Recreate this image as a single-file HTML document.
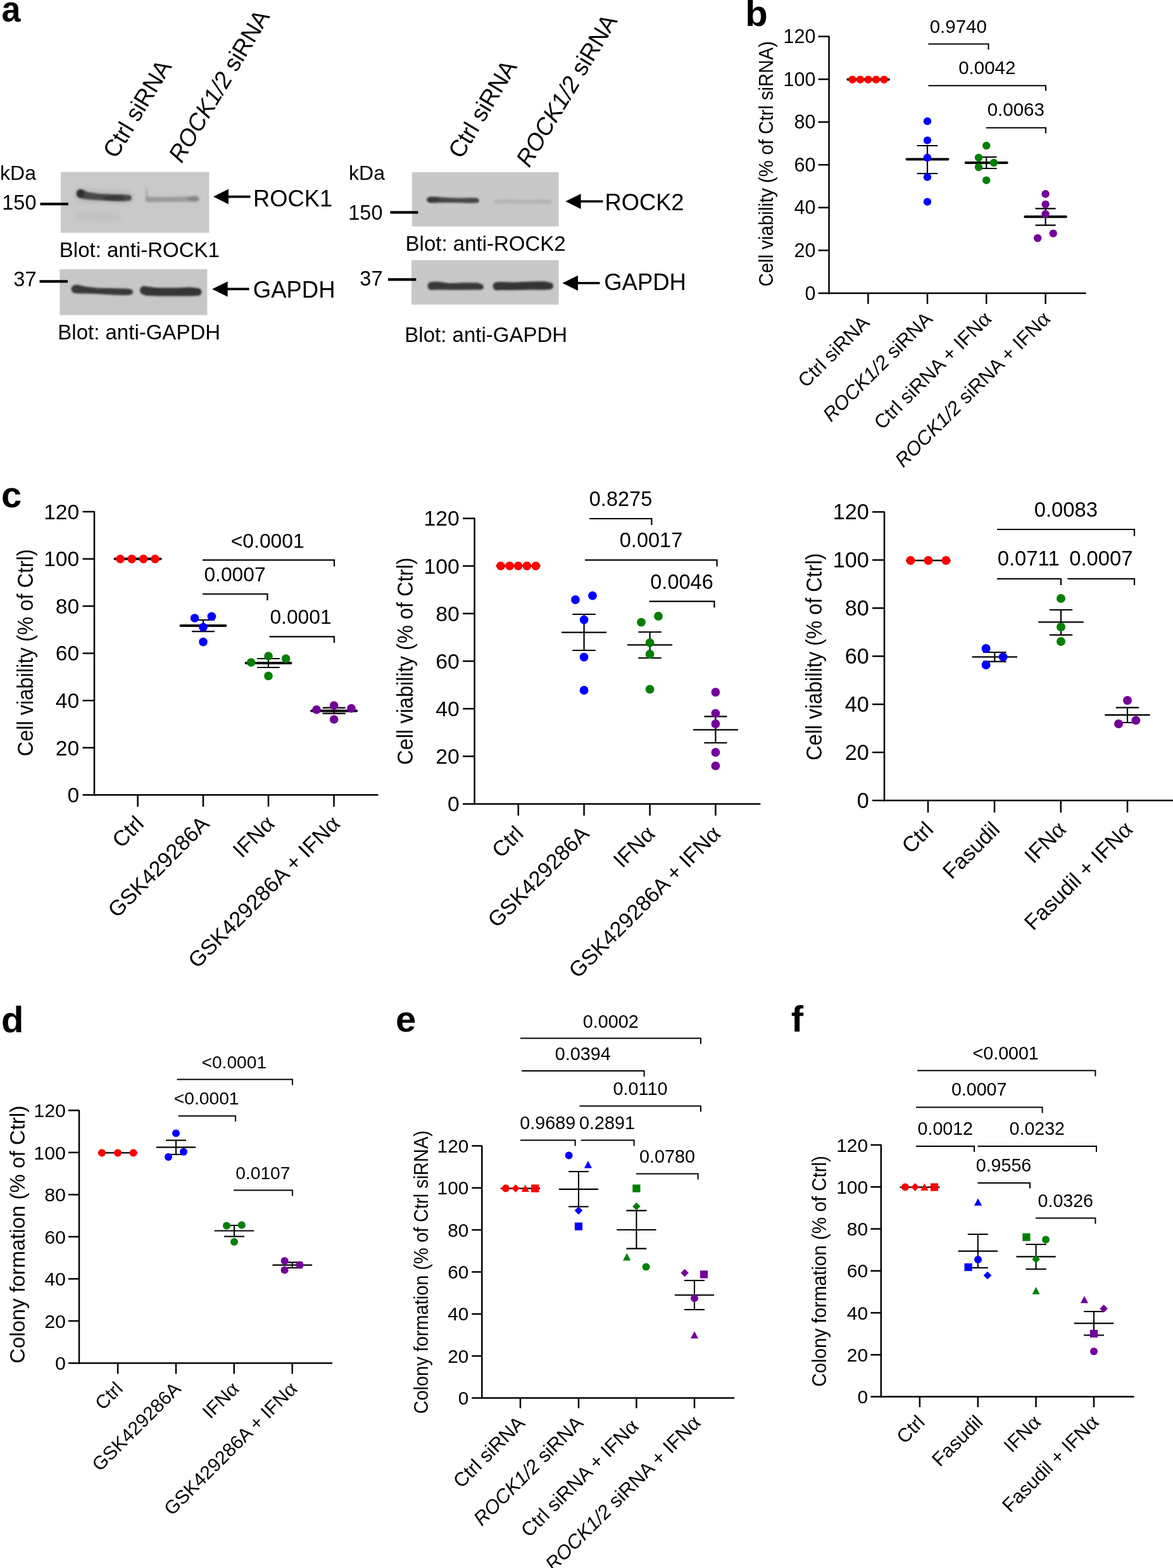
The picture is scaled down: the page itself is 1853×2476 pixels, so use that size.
<!DOCTYPE html>
<html><head><meta charset="utf-8"><title>Figure</title>
<style>html,body{margin:0;padding:0;background:#fff;}body{width:1853px;height:2476px;overflow:hidden;}svg{display:block;}</style>
</head><body>
<svg xmlns="http://www.w3.org/2000/svg" width="1853" height="2476" viewBox="0 0 1853 2476" font-family='"Liberation Sans", Arial, Helvetica, sans-serif'><defs><filter id="blur3" x="-20%" y="-100%" width="140%" height="300%"><feGaussianBlur stdDeviation="2.2"/></filter><filter id="blur5" x="-20%" y="-100%" width="140%" height="300%"><feGaussianBlur stdDeviation="4"/></filter><filter id="noise" x="0" y="0" width="100%" height="100%"><feTurbulence type="fractalNoise" baseFrequency="0.9" numOctaves="1" seed="3"/><feColorMatrix type="matrix" values="0 0 0 0 0.5  0 0 0 0 0.5  0 0 0 0 0.5  0 0 0 0.10 0"/></filter><filter id="blur2" x="-20%" y="-100%" width="140%" height="300%"><feGaussianBlur stdDeviation="1.6"/></filter><filter id="blur4" x="-50%" y="-200%" width="200%" height="500%"><feGaussianBlur stdDeviation="3"/></filter><clipPath id="b1"><rect x="96" y="271.6" width="234.4" height="96"/></clipPath><clipPath id="b2"><rect x="94.4" y="425.2" width="233" height="72.4"/></clipPath><clipPath id="b3"><rect x="650.8" y="272" width="231.8" height="85.6"/></clipPath><clipPath id="b4"><rect x="650" y="410.8" width="232.6" height="70.2"/></clipPath></defs><rect width="1853" height="2476" fill="#fff"/><text transform="translate(2.58,33.5) scale(0.93,1)" font-size="58" font-weight="bold">a</text>
<text transform="translate(183.5,252) rotate(-59) scale(0.97,1)" font-size="38">Ctrl siRNA</text>
<text transform="translate(287,259) rotate(-59) scale(0.97,1)" font-size="38"><tspan font-style="italic">ROCK1/2</tspan> siRNA</text>
<text transform="translate(57,284.4)" font-size="32" text-anchor="end">kDa</text>
<text transform="translate(57.5,331)" font-size="32.5" text-anchor="end">150</text>
<text transform="translate(57.5,452.4)" font-size="32.5" text-anchor="end">37</text>
<rect x="96" y="271.6" width="234.4" height="96" fill="#c9c9c9"/>
<g clip-path="url(#b1)">
<path d="M121,306 C121,302.15 124.15,299 128,299 L128,298.5 L138,303 L155,305.8 L175,306.8 L195,306.9 L203.5,308 C205.97,308 208,310.02 208,312.5 C208,314.98 205.97,317 203.5,317 L195,318.1 L175,317.2 L155,316.2 L138,315 L128,313.5 L128,313 C124.15,313 121,309.85 121,306 Z" fill="#262626" fill-opacity="0.78" filter="url(#blur2)"/>
<path d="M121,305.5 A6,6 0 1,0 133,305.5 A6,6 0 1,0 121,305.5 Z" fill="#101010" fill-opacity="0.55" filter="url(#blur2)"/>
<path d="M164,312.5 A16,4 0 1,0 196,312.5 A16,4 0 1,0 164,312.5 Z" fill="#101010" fill-opacity="0.25" filter="url(#blur2)"/>
<path d="M118,309 C118,303.5 122.5,299 128,299 L201,303 C205.95,303 210,307.05 210,312 C210,316.95 205.95,321 201,321 L128,319 C122.5,319 118,314.5 118,309 Z" fill="#303030" fill-opacity="0.1" filter="url(#blur4)"/>
<path d="M230,315 C230,312.52 232.03,310.5 234.5,310.5 L260,311 L290,310.5 L309.5,309.5 C311.98,309.5 314,311.52 314,314 C314,316.48 311.98,318.5 309.5,318.5 L290,318.5 L260,319 L234.5,319.5 C232.03,319.5 230,317.48 230,315 Z" fill="#404040" fill-opacity="0.33" filter="url(#blur2)"/>
<path d="M296,314 A10,4 0 1,0 316,314 A10,4 0 1,0 296,314 Z" fill="#303030" fill-opacity="0.18" filter="url(#blur2)"/>
<path d="M229,306 A2.5,9 0 1,0 234,306 A2.5,9 0 1,0 229,306 Z" fill="#505050" fill-opacity="0.18" filter="url(#blur2)"/>
<path d="M122,341 C122,338.8 123.8,337 126,337 L150,338 L186,339 C188.2,339 190,340.8 190,343 C190,345.2 188.2,347 186,347 L150,346 L126,345 C123.8,345 122,343.2 122,341 Z" fill="#606060" fill-opacity="0.1" filter="url(#blur4)"/>
</g>
<line x1="63.5" y1="322.2" x2="108" y2="322.2" stroke="#000" stroke-width="4.2" stroke-linecap="butt"/>
<text transform="translate(93.8,405.6)" font-size="33">Blot: anti-ROCK1</text>
<polygon points="337,310.6 361,298.6 361,322.6" fill="#000"/>
<line x1="360" y1="310.6" x2="395.6" y2="310.6" stroke="#000" stroke-width="3.6" stroke-linecap="butt"/>
<text transform="translate(400.1,325.7)" font-size="36.3">ROCK1</text>
<rect x="94.4" y="425.2" width="233" height="72.4" fill="#c7c7c7"/>
<g clip-path="url(#b2)">
<path d="M112.5,456.5 C112.5,452.93 115.42,450 119,450 L122,449.5 L135,452.5 L155,454.7 L180,455.3 L200,455.7 L205.5,456.5 C207.97,456.5 210,458.52 210,461 C210,463.48 207.97,465.5 205.5,465.5 L200,466.3 L180,465.7 L155,464.3 L135,463.5 L122,463.5 L119,463 C115.42,463 112.5,460.07 112.5,456.5 Z" fill="#222222" fill-opacity="0.88" filter="url(#blur2)"/>
<path d="M221,458.5 C221,454.65 224.15,451.5 228,451.5 L230,452.3 L250,454.5 L280,454.5 L300,453.5 L312.5,455 C315.8,455 318.5,457.7 318.5,461 C318.5,464.3 315.8,467 312.5,467 L300,467.5 L280,467.5 L250,467.5 L230,466.7 L228,465.5 C224.15,465.5 221,462.35 221,458.5 Z" fill="#222222" fill-opacity="0.9" filter="url(#blur2)"/>
</g>
<line x1="62.5" y1="444.4" x2="107" y2="444.4" stroke="#000" stroke-width="4.2" stroke-linecap="butt"/>
<text transform="translate(91.3,536)" font-size="33">Blot: anti-GAPDH</text>
<polygon points="335,456.4 359.6,444.4 359.6,468.4" fill="#000"/>
<line x1="358.6" y1="456.4" x2="393.6" y2="456.4" stroke="#000" stroke-width="3.6" stroke-linecap="butt"/>
<text transform="translate(399.78,469.6)" font-size="36.5">GAPDH</text>
<text transform="translate(729,252.5) rotate(-59) scale(0.97,1)" font-size="38">Ctrl siRNA</text>
<text transform="translate(836,266) rotate(-59) scale(0.97,1)" font-size="38"><tspan font-style="italic">ROCK1/2</tspan> siRNA</text>
<text transform="translate(608,284.4)" font-size="32" text-anchor="end">kDa</text>
<text transform="translate(604.5,347)" font-size="32.5" text-anchor="end">150</text>
<text transform="translate(604.5,451.4)" font-size="32.5" text-anchor="end">37</text>
<rect x="650.8" y="272" width="231.8" height="85.6" fill="#c8c8c8"/>
<g clip-path="url(#b3)">
<path d="M675,315.5 C675,313.02 677.02,311 679.5,311 L690,310.7 L705,312 L725,312.7 L745,312.3 L753.2,312.7 C755.29,312.7 757,314.41 757,316.5 C757,318.59 755.29,320.3 753.2,320.3 L745,320.7 L725,320.3 L705,320 L690,320.3 L679.5,320 C677.02,320 675,317.98 675,315.5 Z" fill="#262626" fill-opacity="0.8" filter="url(#blur2)"/>
<path d="M673,315.5 A10,4.5 0 1,0 693,315.5 A10,4.5 0 1,0 673,315.5 Z" fill="#151515" fill-opacity="0.35" filter="url(#blur2)"/>
<path d="M780,318.5 C780,316.85 781.35,315.5 783,315.5 L800,314.8 L830,315.5 L860,315 L869,316 C870.65,316 872,317.35 872,319 C872,320.65 870.65,322 869,322 L860,322 L830,321.5 L800,321.2 L783,321.5 C781.35,321.5 780,320.15 780,318.5 Z" fill="#505050" fill-opacity="0.16" filter="url(#blur2)"/>
</g>
<line x1="616.4" y1="335.4" x2="660.4" y2="335.4" stroke="#000" stroke-width="4.2" stroke-linecap="butt"/>
<text transform="translate(640.6,396.4)" font-size="33">Blot: anti-ROCK2</text>
<polygon points="893.4,318 917.6,306 917.6,330" fill="#000"/>
<line x1="916.6" y1="318" x2="952.4" y2="318" stroke="#000" stroke-width="3.6" stroke-linecap="butt"/>
<text transform="translate(955.5,332)" font-size="36.3">ROCK2</text>
<rect x="650" y="410.8" width="232.6" height="70.2" fill="#c8c8c8"/>
<g clip-path="url(#b4)">
<path d="M675.5,451.5 C675.5,447.93 678.42,445 682,445 L690,444.5 L710,447.3 L735,446.2 L755,446.5 L759.5,448.5 C761.98,448.5 764,450.52 764,453 C764,455.48 761.98,457.5 759.5,457.5 L755,457.5 L735,457.8 L710,457.7 L690,457.5 L682,458 C678.42,458 675.5,455.07 675.5,451.5 Z" fill="#222222" fill-opacity="0.88" filter="url(#blur2)"/>
<path d="M778.5,452 C778.5,448.43 781.42,445.5 785,445.5 L790,445 L810,445.8 L840,444.4 L860,444.2 L868.5,446 C871.52,446 874,448.48 874,451.5 C874,454.52 871.52,457 868.5,457 L860,457.8 L840,457.6 L810,458.2 L790,458 L785,458.5 C781.42,458.5 778.5,455.57 778.5,452 Z" fill="#222222" fill-opacity="0.9" filter="url(#blur2)"/>
</g>
<line x1="613" y1="441.4" x2="657.4" y2="441.4" stroke="#000" stroke-width="4.2" stroke-linecap="butt"/>
<text transform="translate(639.36,540)" font-size="33">Blot: anti-GAPDH</text>
<polygon points="888.4,447 913,435 913,459" fill="#000"/>
<line x1="912" y1="447" x2="947.6" y2="447" stroke="#000" stroke-width="3.6" stroke-linecap="butt"/>
<text transform="translate(954.17,458)" font-size="36.5">GAPDH</text>
<text transform="translate(1177.14,41.2)" font-size="58" font-weight="bold">b</text>
<line x1="1309.6" y1="56.85" x2="1309.6" y2="464.4" stroke="#000" stroke-width="2.5" stroke-linecap="butt"/>
<line x1="1292.6" y1="462.9" x2="1715.6" y2="462.9" stroke="#000" stroke-width="2.5" stroke-linecap="butt"/>
<line x1="1292.6" y1="395.35" x2="1309.6" y2="395.35" stroke="#000" stroke-width="2.5" stroke-linecap="butt"/>
<line x1="1292.6" y1="327.8" x2="1309.6" y2="327.8" stroke="#000" stroke-width="2.5" stroke-linecap="butt"/>
<line x1="1292.6" y1="260.25" x2="1309.6" y2="260.25" stroke="#000" stroke-width="2.5" stroke-linecap="butt"/>
<line x1="1292.6" y1="192.7" x2="1309.6" y2="192.7" stroke="#000" stroke-width="2.5" stroke-linecap="butt"/>
<line x1="1292.6" y1="125.15" x2="1309.6" y2="125.15" stroke="#000" stroke-width="2.5" stroke-linecap="butt"/>
<line x1="1292.6" y1="57.6" x2="1309.6" y2="57.6" stroke="#000" stroke-width="2.5" stroke-linecap="butt"/>
<text transform="translate(1288.5,473.57)" font-size="30.5" text-anchor="end">0</text>
<text transform="translate(1288.5,406.03)" font-size="30.5" text-anchor="end">20</text>
<text transform="translate(1288.5,338.48)" font-size="30.5" text-anchor="end">40</text>
<text transform="translate(1288.5,270.93)" font-size="30.5" text-anchor="end">60</text>
<text transform="translate(1288.5,203.38)" font-size="30.5" text-anchor="end">80</text>
<text transform="translate(1288.5,135.83)" font-size="30.5" text-anchor="end">100</text>
<text transform="translate(1288.5,68.28)" font-size="30.5" text-anchor="end">120</text>
<line x1="1371.4" y1="462.9" x2="1371.4" y2="479.9" stroke="#000" stroke-width="2.5" stroke-linecap="butt"/>
<line x1="1465" y1="462.9" x2="1465" y2="479.9" stroke="#000" stroke-width="2.5" stroke-linecap="butt"/>
<line x1="1558.2" y1="462.9" x2="1558.2" y2="479.9" stroke="#000" stroke-width="2.5" stroke-linecap="butt"/>
<line x1="1651.6" y1="462.9" x2="1651.6" y2="479.9" stroke="#000" stroke-width="2.5" stroke-linecap="butt"/>
<line x1="1339.3" y1="125.6" x2="1403.9" y2="125.6" stroke="#000" stroke-width="4" stroke-linecap="round"/>
<circle cx="1346.6" cy="125.6" r="6.2" fill="#ff0000"/>
<circle cx="1359" cy="125.6" r="6.2" fill="#ff0000"/>
<circle cx="1371.6" cy="125.6" r="6.2" fill="#ff0000"/>
<circle cx="1384" cy="125.6" r="6.2" fill="#ff0000"/>
<circle cx="1396.6" cy="125.6" r="6.2" fill="#ff0000"/>
<line x1="1465" y1="230" x2="1465" y2="274" stroke="#000" stroke-width="2.2" stroke-linecap="butt"/>
<line x1="1448.6" y1="230" x2="1481.4" y2="230" stroke="#000" stroke-width="2.2" stroke-linecap="butt"/>
<line x1="1448.6" y1="274" x2="1481.4" y2="274" stroke="#000" stroke-width="2.2" stroke-linecap="butt"/>
<line x1="1432.5" y1="251.6" x2="1497.5" y2="251.6" stroke="#000" stroke-width="4" stroke-linecap="round"/>
<circle cx="1465" cy="191.4" r="6.2" fill="#0000ff"/>
<circle cx="1465" cy="221.6" r="6.2" fill="#0000ff"/>
<circle cx="1465" cy="249" r="6.2" fill="#0000ff"/>
<circle cx="1465" cy="279.6" r="6.2" fill="#0000ff"/>
<circle cx="1465" cy="318.6" r="6.2" fill="#0000ff"/>
<line x1="1558.2" y1="248" x2="1558.2" y2="266" stroke="#000" stroke-width="2.2" stroke-linecap="butt"/>
<line x1="1541.8" y1="248" x2="1574.6" y2="248" stroke="#000" stroke-width="2.2" stroke-linecap="butt"/>
<line x1="1541.8" y1="266" x2="1574.6" y2="266" stroke="#000" stroke-width="2.2" stroke-linecap="butt"/>
<line x1="1525.7" y1="257" x2="1590.7" y2="257" stroke="#000" stroke-width="4" stroke-linecap="round"/>
<circle cx="1558.2" cy="230" r="6.2" fill="#008000"/>
<circle cx="1546" cy="249" r="6.2" fill="#008000"/>
<circle cx="1570" cy="257" r="6.2" fill="#008000"/>
<circle cx="1546" cy="264" r="6.2" fill="#008000"/>
<circle cx="1558.2" cy="284.6" r="6.2" fill="#008000"/>
<line x1="1651.6" y1="329.3" x2="1651.6" y2="355.6" stroke="#000" stroke-width="2.2" stroke-linecap="butt"/>
<line x1="1635.5" y1="329.3" x2="1667.7" y2="329.3" stroke="#000" stroke-width="2.2" stroke-linecap="butt"/>
<line x1="1635.5" y1="355.6" x2="1667.7" y2="355.6" stroke="#000" stroke-width="2.2" stroke-linecap="butt"/>
<line x1="1619.4" y1="342.2" x2="1683.8" y2="342.2" stroke="#000" stroke-width="4" stroke-linecap="round"/>
<circle cx="1651.6" cy="306.3" r="6.2" fill="#740099"/>
<circle cx="1651.6" cy="322.6" r="6.2" fill="#740099"/>
<circle cx="1651.6" cy="337.9" r="6.2" fill="#740099"/>
<circle cx="1663.8" cy="368.6" r="6.2" fill="#740099"/>
<circle cx="1639.2" cy="376" r="6.2" fill="#740099"/>
<polyline points="1466.4,69.4 1561.5,69.4 1561.5,78.4" fill="none" stroke="#000" stroke-width="2" stroke-linejoin="miter"/>
<text transform="translate(1513.8,52.4)" font-size="29.5" text-anchor="middle">0.9740</text>
<polyline points="1466.4,135.2 1652,135.2 1652,143.6" fill="none" stroke="#000" stroke-width="2" stroke-linejoin="miter"/>
<text transform="translate(1559.3,117)" font-size="29.5" text-anchor="middle">0.0042</text>
<polyline points="1557.6,201.8 1652,201.8 1652,210.4" fill="none" stroke="#000" stroke-width="2" stroke-linejoin="miter"/>
<text transform="translate(1604.8,183.4)" font-size="29.5" text-anchor="middle">0.0063</text>
<text transform="translate(1375.5,511.3) rotate(-45)" font-size="31" text-anchor="end">Ctrl siRNA</text>
<text transform="translate(1474.8,505.5) rotate(-45)" font-size="31" text-anchor="end"><tspan font-style="italic">ROCK1/2</tspan> siRNA</text>
<text transform="translate(1568,505.2) rotate(-45)" font-size="31" text-anchor="end">Ctrl siRNA + IFN<tspan font-family='"Liberation Serif", "Times New Roman", serif' font-size="1.15em">&#945;</tspan></text>
<text transform="translate(1661,505.2) rotate(-45)" font-size="31" text-anchor="end"><tspan font-style="italic">ROCK1/2</tspan> siRNA + IFN<tspan font-family='"Liberation Serif", "Times New Roman", serif' font-size="1.15em">&#945;</tspan></text>
<text transform="translate(1220.6,452.5) rotate(-90) scale(0.92,1)" font-size="32">Cell viability (% of Ctrl siRNA)</text>
<text transform="translate(2.08,800.7)" font-size="58" font-weight="bold">c</text>
<line x1="149" y1="807.25" x2="149" y2="1256.8" stroke="#000" stroke-width="2.5" stroke-linecap="butt"/>
<line x1="130.5" y1="1255.3" x2="597.5" y2="1255.3" stroke="#000" stroke-width="2.5" stroke-linecap="butt"/>
<line x1="130.5" y1="1180.75" x2="149" y2="1180.75" stroke="#000" stroke-width="2.5" stroke-linecap="butt"/>
<line x1="130.5" y1="1106.2" x2="149" y2="1106.2" stroke="#000" stroke-width="2.5" stroke-linecap="butt"/>
<line x1="130.5" y1="1031.65" x2="149" y2="1031.65" stroke="#000" stroke-width="2.5" stroke-linecap="butt"/>
<line x1="130.5" y1="957.1" x2="149" y2="957.1" stroke="#000" stroke-width="2.5" stroke-linecap="butt"/>
<line x1="130.5" y1="882.55" x2="149" y2="882.55" stroke="#000" stroke-width="2.5" stroke-linecap="butt"/>
<line x1="130.5" y1="808" x2="149" y2="808" stroke="#000" stroke-width="2.5" stroke-linecap="butt"/>
<text transform="translate(125.2,1267.06)" font-size="33.6" text-anchor="end">0</text>
<text transform="translate(125.2,1192.51)" font-size="33.6" text-anchor="end">20</text>
<text transform="translate(125.2,1117.96)" font-size="33.6" text-anchor="end">40</text>
<text transform="translate(125.2,1043.41)" font-size="33.6" text-anchor="end">60</text>
<text transform="translate(125.2,968.86)" font-size="33.6" text-anchor="end">80</text>
<text transform="translate(125.2,894.31)" font-size="33.6" text-anchor="end">100</text>
<text transform="translate(125.2,819.76)" font-size="33.6" text-anchor="end">120</text>
<line x1="217.6" y1="1255.3" x2="217.6" y2="1273.8" stroke="#000" stroke-width="2.5" stroke-linecap="butt"/>
<line x1="321" y1="1255.3" x2="321" y2="1273.8" stroke="#000" stroke-width="2.5" stroke-linecap="butt"/>
<line x1="424" y1="1255.3" x2="424" y2="1273.8" stroke="#000" stroke-width="2.5" stroke-linecap="butt"/>
<line x1="527.5" y1="1255.3" x2="527.5" y2="1273.8" stroke="#000" stroke-width="2.5" stroke-linecap="butt"/>
<line x1="181.6" y1="882.6" x2="253.6" y2="882.6" stroke="#000" stroke-width="4" stroke-linecap="round"/>
<circle cx="190" cy="882.6" r="6.8" fill="#ff0000"/>
<circle cx="208.2" cy="882.6" r="6.8" fill="#ff0000"/>
<circle cx="226.6" cy="882.6" r="6.8" fill="#ff0000"/>
<circle cx="245" cy="882.6" r="6.8" fill="#ff0000"/>
<line x1="321" y1="979" x2="321" y2="997.2" stroke="#000" stroke-width="2.2" stroke-linecap="butt"/>
<line x1="303" y1="979" x2="339" y2="979" stroke="#000" stroke-width="2.2" stroke-linecap="butt"/>
<line x1="303" y1="997.2" x2="339" y2="997.2" stroke="#000" stroke-width="2.2" stroke-linecap="butt"/>
<line x1="285.5" y1="988" x2="356.5" y2="988" stroke="#000" stroke-width="4" stroke-linecap="round"/>
<circle cx="307.6" cy="976" r="6.8" fill="#0000ff"/>
<circle cx="334.4" cy="973.4" r="6.8" fill="#0000ff"/>
<circle cx="321" cy="990.4" r="6.8" fill="#0000ff"/>
<circle cx="321" cy="1013.6" r="6.8" fill="#0000ff"/>
<line x1="424" y1="1040" x2="424" y2="1054" stroke="#000" stroke-width="2.2" stroke-linecap="butt"/>
<line x1="406.2" y1="1040" x2="441.8" y2="1040" stroke="#000" stroke-width="2.2" stroke-linecap="butt"/>
<line x1="406.2" y1="1054" x2="441.8" y2="1054" stroke="#000" stroke-width="2.2" stroke-linecap="butt"/>
<line x1="388.5" y1="1047" x2="459.5" y2="1047" stroke="#000" stroke-width="4" stroke-linecap="round"/>
<circle cx="396.6" cy="1046" r="6.8" fill="#008000"/>
<circle cx="424" cy="1036" r="6.8" fill="#008000"/>
<circle cx="451.6" cy="1040" r="6.8" fill="#008000"/>
<circle cx="424" cy="1067.4" r="6.8" fill="#008000"/>
<line x1="527.6" y1="1117.6" x2="527.6" y2="1126.6" stroke="#000" stroke-width="2.2" stroke-linecap="butt"/>
<line x1="509.6" y1="1117.6" x2="545.6" y2="1117.6" stroke="#000" stroke-width="2.2" stroke-linecap="butt"/>
<line x1="509.6" y1="1126.6" x2="545.6" y2="1126.6" stroke="#000" stroke-width="2.2" stroke-linecap="butt"/>
<line x1="492.1" y1="1122.6" x2="563.1" y2="1122.6" stroke="#000" stroke-width="4" stroke-linecap="round"/>
<circle cx="500" cy="1120.6" r="6.8" fill="#740099"/>
<circle cx="527.6" cy="1114" r="6.8" fill="#740099"/>
<circle cx="555" cy="1118.6" r="6.8" fill="#740099"/>
<circle cx="527.6" cy="1136" r="6.8" fill="#740099"/>
<polyline points="320,884.4 528,884.4 528,894.4" fill="none" stroke="#000" stroke-width="2.2" stroke-linejoin="miter"/>
<text transform="translate(422.7,865)" font-size="31.8" text-anchor="middle">&lt;0.0001</text>
<polyline points="320,938 422.4,938 422.4,948" fill="none" stroke="#000" stroke-width="2.2" stroke-linejoin="miter"/>
<text transform="translate(371,918.4)" font-size="31.8" text-anchor="middle">0.0007</text>
<polyline points="425.6,1005.4 528,1005.4 528,1015" fill="none" stroke="#000" stroke-width="2.2" stroke-linejoin="miter"/>
<text transform="translate(475,985.4)" font-size="31.8" text-anchor="middle">0.0001</text>
<text transform="translate(229.1,1302.8) rotate(-45)" font-size="34.2" text-anchor="end">Ctrl</text>
<text transform="translate(332.5,1302.8) rotate(-45)" font-size="34.2" text-anchor="end">GSK429286A</text>
<text transform="translate(435.5,1302.8) rotate(-45)" font-size="34.2" text-anchor="end">IFN<tspan font-family='"Liberation Serif", "Times New Roman", serif' font-size="1.15em">&#945;</tspan></text>
<text transform="translate(539,1302.8) rotate(-45)" font-size="34.2" text-anchor="end">GSK429286A + IFN<tspan font-family='"Liberation Serif", "Times New Roman", serif' font-size="1.15em">&#945;</tspan></text>
<text transform="translate(52.4,1194.3) rotate(-90) scale(0.93,1)" font-size="35">Cell viability (% of Ctrl)</text>
<line x1="749.6" y1="817.85" x2="749.6" y2="1270.9" stroke="#000" stroke-width="2.5" stroke-linecap="butt"/>
<line x1="731.1" y1="1269.4" x2="1201.3" y2="1269.4" stroke="#000" stroke-width="2.5" stroke-linecap="butt"/>
<line x1="731.1" y1="1194.27" x2="749.6" y2="1194.27" stroke="#000" stroke-width="2.5" stroke-linecap="butt"/>
<line x1="731.1" y1="1119.13" x2="749.6" y2="1119.13" stroke="#000" stroke-width="2.5" stroke-linecap="butt"/>
<line x1="731.1" y1="1044" x2="749.6" y2="1044" stroke="#000" stroke-width="2.5" stroke-linecap="butt"/>
<line x1="731.1" y1="968.87" x2="749.6" y2="968.87" stroke="#000" stroke-width="2.5" stroke-linecap="butt"/>
<line x1="731.1" y1="893.73" x2="749.6" y2="893.73" stroke="#000" stroke-width="2.5" stroke-linecap="butt"/>
<line x1="731.1" y1="818.6" x2="749.6" y2="818.6" stroke="#000" stroke-width="2.5" stroke-linecap="butt"/>
<text transform="translate(725.8,1281.23)" font-size="33.8" text-anchor="end">0</text>
<text transform="translate(725.8,1206.1)" font-size="33.8" text-anchor="end">20</text>
<text transform="translate(725.8,1130.96)" font-size="33.8" text-anchor="end">40</text>
<text transform="translate(725.8,1055.83)" font-size="33.8" text-anchor="end">60</text>
<text transform="translate(725.8,980.7)" font-size="33.8" text-anchor="end">80</text>
<text transform="translate(725.8,905.56)" font-size="33.8" text-anchor="end">100</text>
<text transform="translate(725.8,830.43)" font-size="33.8" text-anchor="end">120</text>
<line x1="818.8" y1="1269.4" x2="818.8" y2="1287.9" stroke="#000" stroke-width="2.5" stroke-linecap="butt"/>
<line x1="922.6" y1="1269.4" x2="922.6" y2="1287.9" stroke="#000" stroke-width="2.5" stroke-linecap="butt"/>
<line x1="1026.6" y1="1269.4" x2="1026.6" y2="1287.9" stroke="#000" stroke-width="2.5" stroke-linecap="butt"/>
<line x1="1130.4" y1="1269.4" x2="1130.4" y2="1287.9" stroke="#000" stroke-width="2.5" stroke-linecap="butt"/>
<line x1="783.6" y1="893.6" x2="853.6" y2="893.6" stroke="#000" stroke-width="2.3" stroke-linecap="butt"/>
<circle cx="791" cy="893.6" r="6.9" fill="#ff0000"/>
<circle cx="805" cy="893.6" r="6.9" fill="#ff0000"/>
<circle cx="818.6" cy="893.6" r="6.9" fill="#ff0000"/>
<circle cx="832.4" cy="893.6" r="6.9" fill="#ff0000"/>
<circle cx="846.4" cy="893.6" r="6.9" fill="#ff0000"/>
<line x1="922.6" y1="970" x2="922.6" y2="1027" stroke="#000" stroke-width="2.2" stroke-linecap="butt"/>
<line x1="904.3" y1="970" x2="940.9" y2="970" stroke="#000" stroke-width="2.2" stroke-linecap="butt"/>
<line x1="904.3" y1="1027" x2="940.9" y2="1027" stroke="#000" stroke-width="2.2" stroke-linecap="butt"/>
<line x1="887.1" y1="998.6" x2="958.1" y2="998.6" stroke="#000" stroke-width="2.3" stroke-linecap="butt"/>
<circle cx="909" cy="947" r="6.9" fill="#0000ff"/>
<circle cx="936" cy="940.6" r="6.9" fill="#0000ff"/>
<circle cx="922.6" cy="978.6" r="6.9" fill="#0000ff"/>
<circle cx="922.6" cy="1037.6" r="6.9" fill="#0000ff"/>
<circle cx="922.6" cy="1090" r="6.9" fill="#0000ff"/>
<line x1="1026.6" y1="998" x2="1026.6" y2="1039" stroke="#000" stroke-width="2.2" stroke-linecap="butt"/>
<line x1="1008.3" y1="998" x2="1044.9" y2="998" stroke="#000" stroke-width="2.2" stroke-linecap="butt"/>
<line x1="1008.3" y1="1039" x2="1044.9" y2="1039" stroke="#000" stroke-width="2.2" stroke-linecap="butt"/>
<line x1="991.1" y1="1018.4" x2="1062.1" y2="1018.4" stroke="#000" stroke-width="2.3" stroke-linecap="butt"/>
<circle cx="1013" cy="982.6" r="6.9" fill="#008000"/>
<circle cx="1040" cy="973" r="6.9" fill="#008000"/>
<circle cx="1026.6" cy="1014.8" r="6.9" fill="#008000"/>
<circle cx="1026.6" cy="1033" r="6.9" fill="#008000"/>
<circle cx="1026.6" cy="1088.4" r="6.9" fill="#008000"/>
<line x1="1130.4" y1="1131.4" x2="1130.4" y2="1173" stroke="#000" stroke-width="2.2" stroke-linecap="butt"/>
<line x1="1112.3" y1="1131.4" x2="1148.5" y2="1131.4" stroke="#000" stroke-width="2.2" stroke-linecap="butt"/>
<line x1="1112.3" y1="1173" x2="1148.5" y2="1173" stroke="#000" stroke-width="2.2" stroke-linecap="butt"/>
<line x1="1094.9" y1="1152.4" x2="1165.9" y2="1152.4" stroke="#000" stroke-width="2.3" stroke-linecap="butt"/>
<circle cx="1130.4" cy="1093" r="6.9" fill="#740099"/>
<circle cx="1130.4" cy="1126.4" r="6.9" fill="#740099"/>
<circle cx="1130.4" cy="1143" r="6.9" fill="#740099"/>
<circle cx="1130.4" cy="1188" r="6.9" fill="#740099"/>
<circle cx="1130.4" cy="1209.4" r="6.9" fill="#740099"/>
<polyline points="931,819 1029.4,819 1029.4,829" fill="none" stroke="#000" stroke-width="2.2" stroke-linejoin="miter"/>
<text transform="translate(980.5,799)" font-size="32.5" text-anchor="middle">0.8275</text>
<polyline points="924,884.4 1132.6,884.4 1132.6,894.4" fill="none" stroke="#000" stroke-width="2.2" stroke-linejoin="miter"/>
<text transform="translate(1028.5,864.4)" font-size="32.5" text-anchor="middle">0.0017</text>
<polyline points="1025.6,949.6 1128.4,949.6 1128.4,959.6" fill="none" stroke="#000" stroke-width="2.2" stroke-linejoin="miter"/>
<text transform="translate(1077,930)" font-size="32.5" text-anchor="middle">0.0046</text>
<text transform="translate(828.8,1318.6) rotate(-45)" font-size="34.2" text-anchor="end">Ctrl</text>
<text transform="translate(932.6,1318.6) rotate(-45)" font-size="34.2" text-anchor="end">GSK429286A</text>
<text transform="translate(1036.6,1318.6) rotate(-45)" font-size="34.2" text-anchor="end">IFN<tspan font-family='"Liberation Serif", "Times New Roman", serif' font-size="1.15em">&#945;</tspan></text>
<text transform="translate(1140.4,1318.6) rotate(-45)" font-size="34.2" text-anchor="end">GSK429286A + IFN<tspan font-family='"Liberation Serif", "Times New Roman", serif' font-size="1.15em">&#945;</tspan></text>
<text transform="translate(652.4,1207.7) rotate(-90) scale(0.93,1)" font-size="35">Cell viability (% of Ctrl)</text>
<line x1="1397" y1="807.65" x2="1397" y2="1265.5" stroke="#000" stroke-width="2.5" stroke-linecap="butt"/>
<line x1="1378" y1="1264" x2="1853" y2="1264" stroke="#000" stroke-width="2.5" stroke-linecap="butt"/>
<line x1="1378" y1="1188.07" x2="1397" y2="1188.07" stroke="#000" stroke-width="2.5" stroke-linecap="butt"/>
<line x1="1378" y1="1112.13" x2="1397" y2="1112.13" stroke="#000" stroke-width="2.5" stroke-linecap="butt"/>
<line x1="1378" y1="1036.2" x2="1397" y2="1036.2" stroke="#000" stroke-width="2.5" stroke-linecap="butt"/>
<line x1="1378" y1="960.27" x2="1397" y2="960.27" stroke="#000" stroke-width="2.5" stroke-linecap="butt"/>
<line x1="1378" y1="884.33" x2="1397" y2="884.33" stroke="#000" stroke-width="2.5" stroke-linecap="butt"/>
<line x1="1378" y1="808.4" x2="1397" y2="808.4" stroke="#000" stroke-width="2.5" stroke-linecap="butt"/>
<text transform="translate(1372.8,1275.97)" font-size="34.2" text-anchor="end">0</text>
<text transform="translate(1372.8,1200.04)" font-size="34.2" text-anchor="end">20</text>
<text transform="translate(1372.8,1124.1)" font-size="34.2" text-anchor="end">40</text>
<text transform="translate(1372.8,1048.17)" font-size="34.2" text-anchor="end">60</text>
<text transform="translate(1372.8,972.24)" font-size="34.2" text-anchor="end">80</text>
<text transform="translate(1372.8,896.3)" font-size="34.2" text-anchor="end">100</text>
<text transform="translate(1372.8,820.37)" font-size="34.2" text-anchor="end">120</text>
<line x1="1466" y1="1264" x2="1466" y2="1283" stroke="#000" stroke-width="2.5" stroke-linecap="butt"/>
<line x1="1571" y1="1264" x2="1571" y2="1283" stroke="#000" stroke-width="2.5" stroke-linecap="butt"/>
<line x1="1675.8" y1="1264" x2="1675.8" y2="1283" stroke="#000" stroke-width="2.5" stroke-linecap="butt"/>
<line x1="1781" y1="1264" x2="1781" y2="1283" stroke="#000" stroke-width="2.5" stroke-linecap="butt"/>
<line x1="1431.1" y1="885" x2="1501.7" y2="885" stroke="#000" stroke-width="2.3" stroke-linecap="butt"/>
<circle cx="1438.4" cy="885" r="7" fill="#ff0000"/>
<circle cx="1466.4" cy="885" r="7" fill="#ff0000"/>
<circle cx="1494.4" cy="885" r="7" fill="#ff0000"/>
<line x1="1571.3" y1="1030" x2="1571.3" y2="1044.6" stroke="#000" stroke-width="2.2" stroke-linecap="butt"/>
<line x1="1553" y1="1030" x2="1589.6" y2="1030" stroke="#000" stroke-width="2.2" stroke-linecap="butt"/>
<line x1="1553" y1="1044.6" x2="1589.6" y2="1044.6" stroke="#000" stroke-width="2.2" stroke-linecap="butt"/>
<line x1="1535.6" y1="1037.4" x2="1607" y2="1037.4" stroke="#000" stroke-width="2.3" stroke-linecap="butt"/>
<circle cx="1557.6" cy="1024" r="7" fill="#0000ff"/>
<circle cx="1584.6" cy="1037.4" r="7" fill="#0000ff"/>
<circle cx="1557.6" cy="1050" r="7" fill="#0000ff"/>
<line x1="1676" y1="963" x2="1676" y2="1002.6" stroke="#000" stroke-width="2.2" stroke-linecap="butt"/>
<line x1="1657.8" y1="963" x2="1694.2" y2="963" stroke="#000" stroke-width="2.2" stroke-linecap="butt"/>
<line x1="1657.8" y1="1002.6" x2="1694.2" y2="1002.6" stroke="#000" stroke-width="2.2" stroke-linecap="butt"/>
<line x1="1640.2" y1="982.4" x2="1711.8" y2="982.4" stroke="#000" stroke-width="2.3" stroke-linecap="butt"/>
<circle cx="1676" cy="945" r="7" fill="#008000"/>
<circle cx="1676" cy="990" r="7" fill="#008000"/>
<circle cx="1676" cy="1013" r="7" fill="#008000"/>
<line x1="1781" y1="1117.4" x2="1781" y2="1141" stroke="#000" stroke-width="2.2" stroke-linecap="butt"/>
<line x1="1762.7" y1="1117.4" x2="1799.3" y2="1117.4" stroke="#000" stroke-width="2.2" stroke-linecap="butt"/>
<line x1="1762.7" y1="1141" x2="1799.3" y2="1141" stroke="#000" stroke-width="2.2" stroke-linecap="butt"/>
<line x1="1745.3" y1="1129" x2="1816.7" y2="1129" stroke="#000" stroke-width="2.3" stroke-linecap="butt"/>
<circle cx="1781" cy="1106" r="7" fill="#740099"/>
<circle cx="1794.4" cy="1137.6" r="7" fill="#740099"/>
<circle cx="1767" cy="1143" r="7" fill="#740099"/>
<polyline points="1575,836 1792,836 1792,846.4" fill="none" stroke="#000" stroke-width="2.2" stroke-linejoin="miter"/>
<text transform="translate(1683.8,816.4)" font-size="32.8" text-anchor="middle">0.0083</text>
<polyline points="1575,914 1676,914 1676,924" fill="none" stroke="#000" stroke-width="2.2" stroke-linejoin="miter"/>
<text transform="translate(1624.7,893)" font-size="32.8" text-anchor="middle">0.0711</text>
<polyline points="1686.4,914 1792,914 1792,924" fill="none" stroke="#000" stroke-width="2.2" stroke-linejoin="miter"/>
<text transform="translate(1739.3,893)" font-size="32.8" text-anchor="middle">0.0007</text>
<text transform="translate(1476.3,1311.8) rotate(-45)" font-size="34.2" text-anchor="end">Ctrl</text>
<text transform="translate(1581.3,1311.8) rotate(-45)" font-size="34.2" text-anchor="end">Fasudil</text>
<text transform="translate(1686.1,1311.8) rotate(-45)" font-size="34.2" text-anchor="end">IFN<tspan font-family='"Liberation Serif", "Times New Roman", serif' font-size="1.15em">&#945;</tspan></text>
<text transform="translate(1791.3,1311.8) rotate(-45)" font-size="34.2" text-anchor="end">Fasudil + IFN<tspan font-family='"Liberation Serif", "Times New Roman", serif' font-size="1.15em">&#945;</tspan></text>
<text transform="translate(1298,1200.7) rotate(-90) scale(0.93,1)" font-size="35">Cell viability (% of Ctrl)</text>
<text transform="translate(2.08,1630)" font-size="58" font-weight="bold">d</text>
<line x1="125" y1="1752.65" x2="125" y2="2153.9" stroke="#000" stroke-width="2.5" stroke-linecap="butt"/>
<line x1="108" y1="2152.4" x2="525" y2="2152.4" stroke="#000" stroke-width="2.5" stroke-linecap="butt"/>
<line x1="108" y1="2085.9" x2="125" y2="2085.9" stroke="#000" stroke-width="2.5" stroke-linecap="butt"/>
<line x1="108" y1="2019.4" x2="125" y2="2019.4" stroke="#000" stroke-width="2.5" stroke-linecap="butt"/>
<line x1="108" y1="1952.9" x2="125" y2="1952.9" stroke="#000" stroke-width="2.5" stroke-linecap="butt"/>
<line x1="108" y1="1886.4" x2="125" y2="1886.4" stroke="#000" stroke-width="2.5" stroke-linecap="butt"/>
<line x1="108" y1="1819.9" x2="125" y2="1819.9" stroke="#000" stroke-width="2.5" stroke-linecap="butt"/>
<line x1="108" y1="1753.4" x2="125" y2="1753.4" stroke="#000" stroke-width="2.5" stroke-linecap="butt"/>
<text transform="translate(104,2163.04)" font-size="30.4" text-anchor="end">0</text>
<text transform="translate(104,2096.54)" font-size="30.4" text-anchor="end">20</text>
<text transform="translate(104,2030.04)" font-size="30.4" text-anchor="end">40</text>
<text transform="translate(104,1963.54)" font-size="30.4" text-anchor="end">60</text>
<text transform="translate(104,1897.04)" font-size="30.4" text-anchor="end">80</text>
<text transform="translate(104,1830.54)" font-size="30.4" text-anchor="end">100</text>
<text transform="translate(104,1764.04)" font-size="30.4" text-anchor="end">120</text>
<line x1="186.1" y1="2152.4" x2="186.1" y2="2169.4" stroke="#000" stroke-width="2.5" stroke-linecap="butt"/>
<line x1="278" y1="2152.4" x2="278" y2="2169.4" stroke="#000" stroke-width="2.5" stroke-linecap="butt"/>
<line x1="369.8" y1="2152.4" x2="369.8" y2="2169.4" stroke="#000" stroke-width="2.5" stroke-linecap="butt"/>
<line x1="461.7" y1="2152.4" x2="461.7" y2="2169.4" stroke="#000" stroke-width="2.5" stroke-linecap="butt"/>
<line x1="154.7" y1="1820.4" x2="217.3" y2="1820.4" stroke="#000" stroke-width="2.2" stroke-linecap="butt"/>
<circle cx="161" cy="1820.4" r="6" fill="#ff0000"/>
<circle cx="186" cy="1820.4" r="6" fill="#ff0000"/>
<circle cx="210.6" cy="1820.4" r="6" fill="#ff0000"/>
<line x1="278" y1="1800.6" x2="278" y2="1823" stroke="#000" stroke-width="2.1" stroke-linecap="butt"/>
<line x1="262" y1="1800.6" x2="294" y2="1800.6" stroke="#000" stroke-width="2.1" stroke-linecap="butt"/>
<line x1="262" y1="1823" x2="294" y2="1823" stroke="#000" stroke-width="2.1" stroke-linecap="butt"/>
<line x1="246.8" y1="1811.6" x2="309.2" y2="1811.6" stroke="#000" stroke-width="2.2" stroke-linecap="butt"/>
<circle cx="278" cy="1789.6" r="6" fill="#0000ff"/>
<circle cx="290" cy="1818.8" r="6" fill="#0000ff"/>
<circle cx="266" cy="1827" r="6" fill="#0000ff"/>
<line x1="370" y1="1935" x2="370" y2="1952.5" stroke="#000" stroke-width="2.1" stroke-linecap="butt"/>
<line x1="354" y1="1935" x2="386" y2="1935" stroke="#000" stroke-width="2.1" stroke-linecap="butt"/>
<line x1="354" y1="1952.5" x2="386" y2="1952.5" stroke="#000" stroke-width="2.1" stroke-linecap="butt"/>
<line x1="338.7" y1="1943.5" x2="401.3" y2="1943.5" stroke="#000" stroke-width="2.2" stroke-linecap="butt"/>
<circle cx="358" cy="1935.4" r="6" fill="#008000"/>
<circle cx="381.8" cy="1934.4" r="6" fill="#008000"/>
<circle cx="370" cy="1961" r="6" fill="#008000"/>
<line x1="461.8" y1="1993.4" x2="461.8" y2="2002" stroke="#000" stroke-width="2.1" stroke-linecap="butt"/>
<line x1="445.8" y1="1993.4" x2="477.8" y2="1993.4" stroke="#000" stroke-width="2.1" stroke-linecap="butt"/>
<line x1="445.8" y1="2002" x2="477.8" y2="2002" stroke="#000" stroke-width="2.1" stroke-linecap="butt"/>
<line x1="430.5" y1="1997.6" x2="493.1" y2="1997.6" stroke="#000" stroke-width="2.2" stroke-linecap="butt"/>
<circle cx="449.6" cy="1991" r="6" fill="#740099"/>
<circle cx="473.6" cy="1997.6" r="6" fill="#740099"/>
<circle cx="449.6" cy="2005.4" r="6" fill="#740099"/>
<polyline points="279.6,1704.4 462,1704.4 462,1713.4" fill="none" stroke="#000" stroke-width="2" stroke-linejoin="miter"/>
<text transform="translate(369.8,1687)" font-size="28.2" text-anchor="middle">&lt;0.0001</text>
<polyline points="281.6,1762.2 372,1762.2 372,1771" fill="none" stroke="#000" stroke-width="2" stroke-linejoin="miter"/>
<text transform="translate(326.2,1744.4)" font-size="28.2" text-anchor="middle">&lt;0.0001</text>
<polyline points="369,1879.6 462,1879.6 462,1888.4" fill="none" stroke="#000" stroke-width="2" stroke-linejoin="miter"/>
<text transform="translate(415.3,1862)" font-size="28.2" text-anchor="middle">0.0107</text>
<text transform="translate(195.6,2194.9) rotate(-45)" font-size="30" text-anchor="end">Ctrl</text>
<text transform="translate(287.5,2194.9) rotate(-45)" font-size="30" text-anchor="end">GSK429286A</text>
<text transform="translate(379.3,2194.9) rotate(-45)" font-size="30" text-anchor="end">IFN<tspan font-family='"Liberation Serif", "Times New Roman", serif' font-size="1.15em">&#945;</tspan></text>
<text transform="translate(471.2,2194.9) rotate(-45)" font-size="30" text-anchor="end">GSK429286A + IFN<tspan font-family='"Liberation Serif", "Times New Roman", serif' font-size="1.15em">&#945;</tspan></text>
<text transform="translate(38.6,2153) rotate(-90)" font-size="33">Colony formation (% of Ctrl)</text>
<text transform="translate(625.08,1629.3)" font-size="58" font-weight="bold">e</text>
<line x1="761.3" y1="1808.65" x2="761.3" y2="2209.1" stroke="#000" stroke-width="2.5" stroke-linecap="butt"/>
<line x1="745.3" y1="2207.6" x2="1160.2" y2="2207.6" stroke="#000" stroke-width="2.5" stroke-linecap="butt"/>
<line x1="745.3" y1="2141.23" x2="761.3" y2="2141.23" stroke="#000" stroke-width="2.5" stroke-linecap="butt"/>
<line x1="745.3" y1="2074.87" x2="761.3" y2="2074.87" stroke="#000" stroke-width="2.5" stroke-linecap="butt"/>
<line x1="745.3" y1="2008.5" x2="761.3" y2="2008.5" stroke="#000" stroke-width="2.5" stroke-linecap="butt"/>
<line x1="745.3" y1="1942.13" x2="761.3" y2="1942.13" stroke="#000" stroke-width="2.5" stroke-linecap="butt"/>
<line x1="745.3" y1="1875.77" x2="761.3" y2="1875.77" stroke="#000" stroke-width="2.5" stroke-linecap="butt"/>
<line x1="745.3" y1="1809.4" x2="761.3" y2="1809.4" stroke="#000" stroke-width="2.5" stroke-linecap="butt"/>
<text transform="translate(740.3,2218.03)" font-size="29.8" text-anchor="end">0</text>
<text transform="translate(740.3,2151.66)" font-size="29.8" text-anchor="end">20</text>
<text transform="translate(740.3,2085.3)" font-size="29.8" text-anchor="end">40</text>
<text transform="translate(740.3,2018.93)" font-size="29.8" text-anchor="end">60</text>
<text transform="translate(740.3,1952.56)" font-size="29.8" text-anchor="end">80</text>
<text transform="translate(740.3,1886.2)" font-size="29.8" text-anchor="end">100</text>
<text transform="translate(740.3,1819.83)" font-size="29.8" text-anchor="end">120</text>
<line x1="822" y1="2207.6" x2="822" y2="2223.6" stroke="#000" stroke-width="2.5" stroke-linecap="butt"/>
<line x1="914" y1="2207.6" x2="914" y2="2223.6" stroke="#000" stroke-width="2.5" stroke-linecap="butt"/>
<line x1="1005.4" y1="2207.6" x2="1005.4" y2="2223.6" stroke="#000" stroke-width="2.5" stroke-linecap="butt"/>
<line x1="1097" y1="2207.6" x2="1097" y2="2223.6" stroke="#000" stroke-width="2.5" stroke-linecap="butt"/>
<line x1="790.8" y1="1876.6" x2="853.2" y2="1876.6" stroke="#000" stroke-width="2.2" stroke-linecap="butt"/>
<circle cx="799" cy="1876.6" r="6" fill="#ff0000"/>
<polygon points="814.6,1870.3 820.9,1876.6 814.6,1882.9 808.3,1876.6" fill="#ff0000"/>
<polygon points="829.8,1870.5 835.9,1882.1 823.7,1882.1" fill="#ff0000"/>
<rect x="839.1" y="1870.5" width="12.2" height="12.2" fill="#ff0000"/>
<line x1="914" y1="1850" x2="914" y2="1905.4" stroke="#000" stroke-width="2.1" stroke-linecap="butt"/>
<line x1="898.2" y1="1850" x2="929.8" y2="1850" stroke="#000" stroke-width="2.1" stroke-linecap="butt"/>
<line x1="898.2" y1="1905.4" x2="929.8" y2="1905.4" stroke="#000" stroke-width="2.1" stroke-linecap="butt"/>
<line x1="882.9" y1="1877.9" x2="945.1" y2="1877.9" stroke="#000" stroke-width="2.2" stroke-linecap="butt"/>
<circle cx="898.6" cy="1824.4" r="6" fill="#0000ff"/>
<polygon points="929,1833 935.1,1844.6 922.9,1844.6" fill="#0000ff"/>
<polygon points="914,1905.3 920.3,1911.6 914,1917.9 907.7,1911.6" fill="#0000ff"/>
<rect x="907.9" y="1930.5" width="12.2" height="12.2" fill="#0000ff"/>
<line x1="1005.4" y1="1911.6" x2="1005.4" y2="1971.6" stroke="#000" stroke-width="2.1" stroke-linecap="butt"/>
<line x1="989.4" y1="1911.6" x2="1021.4" y2="1911.6" stroke="#000" stroke-width="2.1" stroke-linecap="butt"/>
<line x1="989.4" y1="1971.6" x2="1021.4" y2="1971.6" stroke="#000" stroke-width="2.1" stroke-linecap="butt"/>
<line x1="974.3" y1="1942" x2="1036.5" y2="1942" stroke="#000" stroke-width="2.2" stroke-linecap="butt"/>
<rect x="999.3" y="1870.5" width="12.2" height="12.2" fill="#008000"/>
<polygon points="1005.4,1898.7 1011.7,1905 1005.4,1911.3 999.1,1905" fill="#008000"/>
<polygon points="990.2,1978.8 996.3,1990.39 984.1,1990.39" fill="#008000"/>
<circle cx="1020.6" cy="2000.4" r="6" fill="#008000"/>
<line x1="1097" y1="2022" x2="1097" y2="2068" stroke="#000" stroke-width="2.1" stroke-linecap="butt"/>
<line x1="1081" y1="2022" x2="1113" y2="2022" stroke="#000" stroke-width="2.1" stroke-linecap="butt"/>
<line x1="1081" y1="2068" x2="1113" y2="2068" stroke="#000" stroke-width="2.1" stroke-linecap="butt"/>
<line x1="1065.9" y1="2045" x2="1128.1" y2="2045" stroke="#000" stroke-width="2.2" stroke-linecap="butt"/>
<polygon points="1081.6,2003.7 1087.9,2010 1081.6,2016.3 1075.3,2010" fill="#740099"/>
<rect x="1105.9" y="2006.3" width="12.2" height="12.2" fill="#740099"/>
<circle cx="1097" cy="2050" r="6" fill="#740099"/>
<polygon points="1097,2102.01 1103.1,2113.6 1090.9,2113.6" fill="#740099"/>
<polyline points="822,1639.6 1107,1639.6 1107,1648.6" fill="none" stroke="#000" stroke-width="2" stroke-linejoin="miter"/>
<text transform="translate(964.7,1622.6)" font-size="28.8" text-anchor="middle">0.0002</text>
<polyline points="824,1691 1017.6,1691 1017.6,1700" fill="none" stroke="#000" stroke-width="2" stroke-linejoin="miter"/>
<text transform="translate(920.7,1673.6)" font-size="28.8" text-anchor="middle">0.0394</text>
<polyline points="915.6,1746.6 1107,1746.6 1107,1755.6" fill="none" stroke="#000" stroke-width="2" stroke-linejoin="miter"/>
<text transform="translate(1011.5,1729)" font-size="28.8" text-anchor="middle">0.0110</text>
<polyline points="822,1800.6 908.6,1800.6 908.6,1809.4" fill="none" stroke="#000" stroke-width="2" stroke-linejoin="miter"/>
<text transform="translate(865.2,1782.6)" font-size="28.8" text-anchor="middle">0.9689</text>
<polyline points="917.6,1800.6 1001.6,1800.6 1001.6,1809.4" fill="none" stroke="#000" stroke-width="2" stroke-linejoin="miter"/>
<text transform="translate(959,1783)" font-size="28.8" text-anchor="middle">0.2891</text>
<polyline points="1005,1853.6 1102.6,1853.6 1102.6,1862.4" fill="none" stroke="#000" stroke-width="2" stroke-linejoin="miter"/>
<text transform="translate(1054,1836)" font-size="28.8" text-anchor="middle">0.0780</text>
<text transform="translate(831,2249) rotate(-45)" font-size="31" text-anchor="end">Ctrl siRNA</text>
<text transform="translate(923,2249) rotate(-45)" font-size="31" text-anchor="end"><tspan font-style="italic">ROCK1/2</tspan> siRNA</text>
<text transform="translate(1010.4,2254.4) rotate(-45)" font-size="31" text-anchor="end">Ctrl siRNA + IFN<tspan font-family='"Liberation Serif", "Times New Roman", serif' font-size="1.15em">&#945;</tspan></text>
<text transform="translate(1108.5,2248.3) rotate(-45)" font-size="31" text-anchor="end"><tspan font-style="italic">ROCK1/2</tspan> siRNA + IFN<tspan font-family='"Liberation Serif", "Times New Roman", serif' font-size="1.15em">&#945;</tspan></text>
<text transform="translate(676,2232.5) rotate(-90) scale(0.95,1)" font-size="30.5">Colony formation (% of Ctrl siRNA)</text>
<text transform="translate(1249.74,1628.8)" font-size="58" font-weight="bold">f</text>
<line x1="1391.8" y1="1807.25" x2="1391.8" y2="2207.1" stroke="#000" stroke-width="2.5" stroke-linecap="butt"/>
<line x1="1375.4" y1="2205.6" x2="1791.6" y2="2205.6" stroke="#000" stroke-width="2.5" stroke-linecap="butt"/>
<line x1="1375.4" y1="2139.33" x2="1391.8" y2="2139.33" stroke="#000" stroke-width="2.5" stroke-linecap="butt"/>
<line x1="1375.4" y1="2073.07" x2="1391.8" y2="2073.07" stroke="#000" stroke-width="2.5" stroke-linecap="butt"/>
<line x1="1375.4" y1="2006.8" x2="1391.8" y2="2006.8" stroke="#000" stroke-width="2.5" stroke-linecap="butt"/>
<line x1="1375.4" y1="1940.53" x2="1391.8" y2="1940.53" stroke="#000" stroke-width="2.5" stroke-linecap="butt"/>
<line x1="1375.4" y1="1874.27" x2="1391.8" y2="1874.27" stroke="#000" stroke-width="2.5" stroke-linecap="butt"/>
<line x1="1375.4" y1="1808" x2="1391.8" y2="1808" stroke="#000" stroke-width="2.5" stroke-linecap="butt"/>
<text transform="translate(1371.2,2216.1)" font-size="30" text-anchor="end">0</text>
<text transform="translate(1371.2,2149.83)" font-size="30" text-anchor="end">20</text>
<text transform="translate(1371.2,2083.57)" font-size="30" text-anchor="end">40</text>
<text transform="translate(1371.2,2017.3)" font-size="30" text-anchor="end">60</text>
<text transform="translate(1371.2,1951.03)" font-size="30" text-anchor="end">80</text>
<text transform="translate(1371.2,1884.77)" font-size="30" text-anchor="end">100</text>
<text transform="translate(1371.2,1818.5)" font-size="30" text-anchor="end">120</text>
<line x1="1452.9" y1="2205.6" x2="1452.9" y2="2222" stroke="#000" stroke-width="2.5" stroke-linecap="butt"/>
<line x1="1544.8" y1="2205.6" x2="1544.8" y2="2222" stroke="#000" stroke-width="2.5" stroke-linecap="butt"/>
<line x1="1636.5" y1="2205.6" x2="1636.5" y2="2222" stroke="#000" stroke-width="2.5" stroke-linecap="butt"/>
<line x1="1728" y1="2205.6" x2="1728" y2="2222" stroke="#000" stroke-width="2.5" stroke-linecap="butt"/>
<line x1="1421.6" y1="1874.6" x2="1484.4" y2="1874.6" stroke="#000" stroke-width="2.2" stroke-linecap="butt"/>
<circle cx="1430" cy="1874.6" r="6" fill="#ff0000"/>
<polygon points="1445.6,1868.3 1451.9,1874.6 1445.6,1880.9 1439.3,1874.6" fill="#ff0000"/>
<polygon points="1460.4,1868.5 1466.5,1880.1 1454.3,1880.1" fill="#ff0000"/>
<rect x="1469.9" y="1868.5" width="12.2" height="12.2" fill="#ff0000"/>
<line x1="1544.8" y1="1949" x2="1544.8" y2="2002" stroke="#000" stroke-width="2.1" stroke-linecap="butt"/>
<line x1="1528.8" y1="1949" x2="1560.8" y2="1949" stroke="#000" stroke-width="2.1" stroke-linecap="butt"/>
<line x1="1528.8" y1="2002" x2="1560.8" y2="2002" stroke="#000" stroke-width="2.1" stroke-linecap="butt"/>
<line x1="1513.6" y1="1975.6" x2="1576" y2="1975.6" stroke="#000" stroke-width="2.2" stroke-linecap="butt"/>
<polygon points="1545,1892.2 1551.1,1903.8 1538.9,1903.8" fill="#0000ff"/>
<circle cx="1545" cy="1989" r="6" fill="#0000ff"/>
<rect x="1523.5" y="1994.9" width="12.2" height="12.2" fill="#0000ff"/>
<polygon points="1560,2007.7 1566.3,2014 1560,2020.3 1553.7,2014" fill="#0000ff"/>
<line x1="1636.6" y1="1965" x2="1636.6" y2="2004" stroke="#000" stroke-width="2.1" stroke-linecap="butt"/>
<line x1="1620.4" y1="1965" x2="1652.8" y2="1965" stroke="#000" stroke-width="2.1" stroke-linecap="butt"/>
<line x1="1620.4" y1="2004" x2="1652.8" y2="2004" stroke="#000" stroke-width="2.1" stroke-linecap="butt"/>
<line x1="1605.5" y1="1984.4" x2="1667.7" y2="1984.4" stroke="#000" stroke-width="2.2" stroke-linecap="butt"/>
<rect x="1615.3" y="1947.5" width="12.2" height="12.2" fill="#008000"/>
<circle cx="1652" cy="1957.6" r="6" fill="#008000"/>
<polygon points="1636.6,1982.1 1642.9,1988.4 1636.6,1994.7 1630.3,1988.4" fill="#008000"/>
<polygon points="1636.6,2032.2 1642.7,2043.8 1630.5,2043.8" fill="#008000"/>
<line x1="1728" y1="2071" x2="1728" y2="2108.4" stroke="#000" stroke-width="2.1" stroke-linecap="butt"/>
<line x1="1712" y1="2071" x2="1744" y2="2071" stroke="#000" stroke-width="2.1" stroke-linecap="butt"/>
<line x1="1712" y1="2108.4" x2="1744" y2="2108.4" stroke="#000" stroke-width="2.1" stroke-linecap="butt"/>
<line x1="1696.7" y1="2089.6" x2="1759.3" y2="2089.6" stroke="#000" stroke-width="2.2" stroke-linecap="butt"/>
<polygon points="1713,2046.2 1719.1,2057.8 1706.9,2057.8" fill="#740099"/>
<polygon points="1743.6,2060.1 1749.9,2066.4 1743.6,2072.7 1737.3,2066.4" fill="#740099"/>
<rect x="1721.9" y="2099.9" width="12.2" height="12.2" fill="#740099"/>
<circle cx="1728" cy="2134" r="6" fill="#740099"/>
<polyline points="1449,1690.6 1730.4,1690.6 1730.4,1699.6" fill="none" stroke="#000" stroke-width="2" stroke-linejoin="miter"/>
<text transform="translate(1588.7,1673)" font-size="28.6" text-anchor="middle">&lt;0.0001</text>
<polyline points="1447,1748.6 1646.6,1748.6 1646.6,1757.4" fill="none" stroke="#000" stroke-width="2" stroke-linejoin="miter"/>
<text transform="translate(1546.7,1730.4)" font-size="28.6" text-anchor="middle">0.0007</text>
<polyline points="1447,1810 1539,1810 1539,1819" fill="none" stroke="#000" stroke-width="2" stroke-linejoin="miter"/>
<text transform="translate(1493.3,1792.4)" font-size="28.6" text-anchor="middle">0.0012</text>
<polyline points="1544.4,1810 1732,1810 1732,1819" fill="none" stroke="#000" stroke-width="2" stroke-linejoin="miter"/>
<text transform="translate(1638.3,1792)" font-size="28.6" text-anchor="middle">0.0232</text>
<polyline points="1544.4,1868 1627,1868 1627,1876.4" fill="none" stroke="#000" stroke-width="2" stroke-linejoin="miter"/>
<text transform="translate(1585.5,1850)" font-size="28.6" text-anchor="middle">0.9556</text>
<polyline points="1636,1923.6 1730.4,1923.6 1730.4,1932.4" fill="none" stroke="#000" stroke-width="2" stroke-linejoin="miter"/>
<text transform="translate(1683.3,1905.6)" font-size="28.6" text-anchor="middle">0.0326</text>
<text transform="translate(1462.5,2247.6) rotate(-45)" font-size="30.5" text-anchor="end">Ctrl</text>
<text transform="translate(1554.4,2247.6) rotate(-45)" font-size="30.5" text-anchor="end">Fasudil</text>
<text transform="translate(1646.1,2247.6) rotate(-45)" font-size="30.5" text-anchor="end">IFN<tspan font-family='"Liberation Serif", "Times New Roman", serif' font-size="1.15em">&#945;</tspan></text>
<text transform="translate(1737.6,2247.6) rotate(-45)" font-size="30.5" text-anchor="end">Fasudil + IFN<tspan font-family='"Liberation Serif", "Times New Roman", serif' font-size="1.15em">&#945;</tspan></text>
<text transform="translate(1304.6,2189.8) rotate(-90) scale(0.96,1)" font-size="30.8">Colony formation (% of Ctrl)</text></svg>
</body></html>
